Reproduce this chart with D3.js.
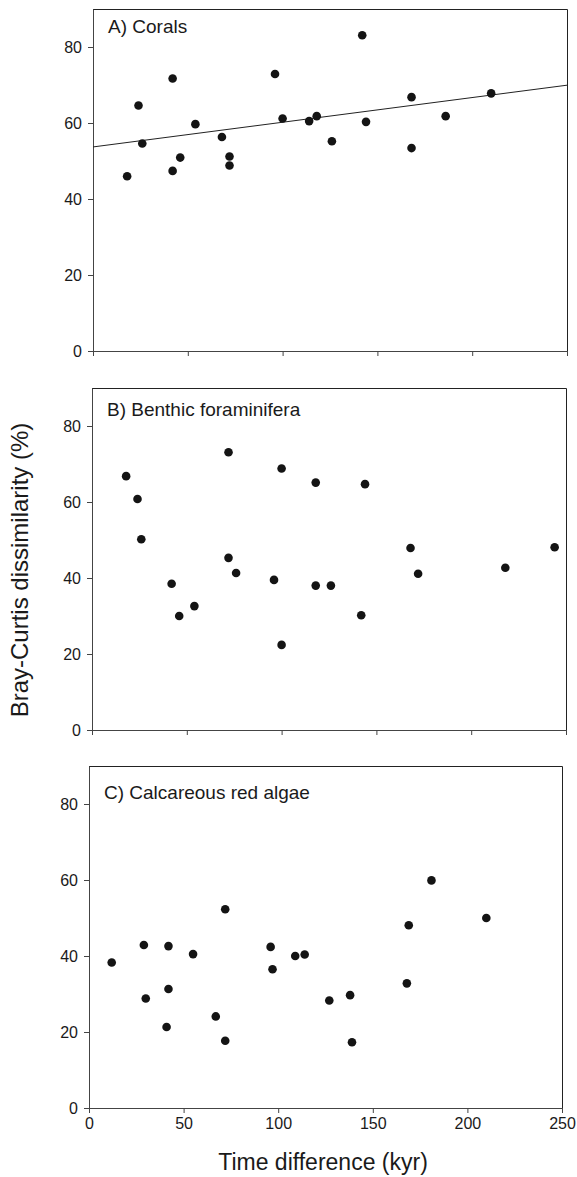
<!DOCTYPE html>
<html>
<head>
<meta charset="utf-8">
<script src="https://cdn.jsdelivr.net/npm/d3@7"></script>
<style>
  body { margin: 0; background: #fff; }
  svg { display: block; }
  text { font-family: "Liberation Sans", Arial, sans-serif; fill: #1a1a1a; }
  .tick text { font-size: 16px; }
  .domain, .tick line { stroke: #444; }
  .frame { stroke: #222; fill: none; }
  .fit { stroke: #222; stroke-width: 1; fill: none; }
  .dot { fill: #141414; }
  .panel-label { font-size: 19px; }
  .axis-title { font-size: 23px; }
</style>
</head>
<body>
<svg id="chart" width="577" height="1177"></svg>
<script>
// tick labels
const xTicks = [0, 50, 100, 150, 200, 250];
const yTicks = [0, 20, 40, 60, 80];

// A) Corals
const coralsTime = [18, 24, 26, 42, 42, 46, 54, 68, 72, 72, 96, 100, 114, 118, 126, 142, 144, 168, 168, 186, 210];
const coralsDiss = [46.0, 64.6, 54.6, 71.7, 47.4, 50.9, 59.7, 56.3, 51.2, 48.8, 72.9, 61.2, 60.5, 61.8, 55.2, 83.1, 60.3, 66.8, 53.4, 61.8, 67.8];
const coralsFit = { intercept: 53.7, slope: 0.065 };

// B) Benthic foraminifera
const foramTime = [18, 24, 26, 42, 46, 54, 72, 72, 76, 96, 100, 100, 118, 118, 126, 142, 144, 168, 172, 218, 244];
const foramDiss = [66.8, 60.8, 50.2, 38.5, 30.0, 32.6, 73.1, 45.3, 41.3, 39.5, 68.8, 22.4, 65.1, 38.0, 38.0, 30.2, 64.7, 47.9, 41.1, 42.7, 48.1];

// C) Calcareous red algae
const algaeTime = [12, 29, 30, 42, 42, 41, 55, 67, 72, 72, 96, 97, 109, 114, 127, 138, 139, 168, 169, 181, 210];
const algaeDiss = [38.3, 42.9, 28.8, 42.6, 31.3, 21.3, 40.5, 24.1, 52.3, 17.7, 42.4, 36.5, 40.0, 40.4, 28.3, 29.7, 17.3, 32.8, 48.1, 59.9, 50.0];

const svg = d3.select("#chart");

const drawPanel = (cfg) => {
  const x = d3.scaleLinear().domain([0, 250]).range([cfg.left, cfg.right]);
  const y = d3.scaleLinear().domain([0, 90]).range([cfg.bottom, cfg.top]);

  const g = svg.append("g");

  // top + right border
  g.append("path")
    .attr("class", "frame")
    .attr("d", `M${cfg.left},${cfg.top + 0.5}H${cfg.right + 0.5}V${cfg.bottom}`);

  const xAxis = d3.axisBottom(x).tickValues(xTicks).tickSize(5).tickPadding(5).tickSizeOuter(0);
  if (!cfg.xLabels) xAxis.tickFormat("");
  g.append("g")
    .attr("transform", `translate(0,${cfg.bottom})`)
    .call(xAxis);

  g.append("g")
    .attr("transform", `translate(${cfg.left},0)`)
    .call(d3.axisLeft(y).tickValues(yTicks).tickSize(5).tickPadding(6).tickSizeOuter(0));

  if (cfg.fit) {
    g.append("line")
      .attr("class", "fit")
      .attr("x1", x(0))
      .attr("y1", y(cfg.fit.intercept))
      .attr("x2", x(250))
      .attr("y2", y(cfg.fit.intercept + cfg.fit.slope * 250));
  }

  g.selectAll(".dot")
    .data(cfg.xs.map((d, i) => [d, cfg.ys[i]]))
    .enter()
    .append("circle")
    .attr("class", "dot")
    .attr("cx", (d) => x(d[0]))
    .attr("cy", (d) => y(d[1]))
    .attr("r", 4.3);

  g.append("text")
    .attr("class", "panel-label")
    .attr("x", cfg.left + 15)
    .attr("y", cfg.labelY)
    .text(cfg.label);
};

drawPanel({ left: 93, right: 567, top: 9, bottom: 351, labelY: 33, label: "A) Corals",
  xs: coralsTime, ys: coralsDiss, fit: coralsFit, xLabels: false });
drawPanel({ left: 92, right: 566, top: 388, bottom: 730, labelY: 416, label: "B) Benthic foraminifera",
  xs: foramTime, ys: foramDiss, xLabels: false });
drawPanel({ left: 89, right: 562, top: 766, bottom: 1108, labelY: 799, label: "C) Calcareous red algae",
  xs: algaeTime, ys: algaeDiss, xLabels: true });

svg.append("text")
  .attr("class", "axis-title")
  .attr("transform", "translate(28,570) rotate(-90)")
  .attr("text-anchor", "middle")
  .style("font-size", "24px")
  .text("Bray-Curtis dissimilarity (%)");

svg.append("text")
  .attr("class", "axis-title")
  .attr("x", 323)
  .attr("y", 1170)
  .attr("text-anchor", "middle")
  .text("Time difference (kyr)");
</script>
</body>
</html>
